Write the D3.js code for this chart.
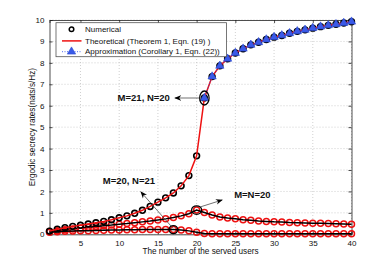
<!DOCTYPE html>
<html><head><meta charset="utf-8">
<script src="https://cdn.jsdelivr.net/npm/d3@7"></script>
<style>
html,body{margin:0;padding:0;background:#fff;}
text{font-family:"Liberation Sans",Arial,sans-serif;}
</style></head>
<body><svg id="c" width="388" height="264"></svg>
<script>
const users = d3.range(1, 41);
const rateM21N20 = [0.15,0.24,0.31,0.37,0.42,0.48,0.54,0.60,0.68,0.77,0.86,0.98,1.12,1.30,1.50,1.70,1.93,2.26,2.74,3.66,
  6.36,7.36,7.86,8.19,8.46,8.66,8.84,8.96,9.09,9.20,9.28,9.38,9.47,9.54,9.62,9.69,9.75,9.80,9.86,9.92];
const approxUsers = d3.range(21, 41);
const approxM21N20 = [6.36,7.36,7.86,8.19,8.46,8.66,8.84,8.96,9.09,9.20,9.28,9.38,9.47,9.54,9.62,9.69,9.75,9.80,9.86,9.92];
const rateM20N20 = [0.13,0.17,0.21,0.25,0.29,0.33,0.36,0.40,0.43,0.47,0.50,0.54,0.58,0.62,0.67,0.72,0.78,0.86,0.96,1.13,
  1.02,0.90,0.81,0.76,0.72,0.68,0.65,0.62,0.60,0.58,0.57,0.55,0.54,0.53,0.52,0.51,0.50,0.49,0.48,0.47];
const rateM20N21 = [0.10,0.12,0.14,0.15,0.16,0.17,0.18,0.19,0.20,0.20,0.21,0.21,0.22,0.22,0.22,0.22,0.22,0.20,0.16,0.10,
  0.04,0.03,0.03,0.03,0.03,0.03,0.03,0.03,0.03,0.03,0.03,0.03,0.03,0.03,0.03,0.03,0.03,0.03,0.03,0.03];
const xTicks = [5,10,15,20,25,30,35,40];
const yTicks = [0,1,2,3,4,5,6,7,8,9,10];
const legendLabels = ["Numerical","Theoretical (Theorem 1, Eqn. (19) )","Approximation (Corollary 1, Eqn. (22))"];
const annoLabels = ["M=21, N=20","M=20, N=21","M=N=20"];
const annoText = [[16.55,6.36],[11.25,2.49],[27.2,1.84]];   // [users, rate] of label anchors
const annoArrowFrom = [[20.45,6.36],[16.9,0.30],[20.5,1.28]];
const annoArrowTo = [[17.2,6.36],[12.8,1.98],[23.3,1.60]];
const ellipseAt = [[21,6.36],[20,1.13],[17,0.22]];

const svg = d3.select("#c");
const W=388,H=264, L=49.5, R=351.5, T=20, B=234.3;
const x = d3.scaleLinear().domain([1,40]).range([L,R]);
const y = d3.scaleLinear().domain([0,10]).range([B,T]);

svg.append("rect").attr("width",W).attr("height",H).attr("fill","#fff");
svg.append("rect").attr("x",L).attr("y",T).attr("width",R-L).attr("height",B-T).attr("fill","#fff");

// grid
const g = svg.append("g");
g.selectAll(".gx").data(xTicks).join("line").attr("x1",d=>x(d)).attr("x2",d=>x(d)).attr("y1",T).attr("y2",B)
  .attr("stroke","#bbb").attr("stroke-width",0.7).attr("stroke-dasharray","1,2");
g.selectAll(".gy").data(yTicks).join("line").attr("y1",d=>y(d)).attr("y2",d=>y(d)).attr("x1",L).attr("x2",R)
  .attr("stroke","#bbb").attr("stroke-width",0.7).attr("stroke-dasharray","1,2");

// axes
const ax = svg.append("g").attr("transform",`translate(0,${B})`).call(d3.axisBottom(x).tickValues(xTicks).tickSize(-3).tickPadding(6));
const ax2 = svg.append("g").attr("transform",`translate(0,${T})`).call(d3.axisTop(x).tickValues(xTicks).tickSize(-3).tickFormat(""));
const ay = svg.append("g").attr("transform",`translate(${L},0)`).call(d3.axisLeft(y).tickValues(yTicks).tickSize(-3).tickPadding(5));
const ay2 = svg.append("g").attr("transform",`translate(${R},0)`).call(d3.axisRight(y).tickValues(yTicks).tickSize(-3).tickFormat(""));
[ax,ax2,ay,ay2].forEach(a=>{
  a.selectAll("path").attr("stroke","#222").attr("stroke-width",0.8);
  a.selectAll("line").attr("stroke","#222").attr("stroke-width",0.8);
  a.selectAll("text").attr("font-size",8).attr("fill","#111").attr("font-family","Liberation Sans, Arial, sans-serif");
});

svg.append("text").attr("x",(L+R)/2).attr("y",253.5).attr("text-anchor","middle").attr("font-size",8.2).attr("fill","#111")
  .text("The number of the served users");
svg.append("text").attr("transform",`translate(34.5,${(T+B)/2}) rotate(-90)`).attr("text-anchor","middle").attr("font-size",8.2).attr("fill","#111")
  .text("Ergodic secrecy rates(nats/s/Hz)");

const line = d3.line().x((d,i)=>x(users[i])).y(d=>y(d));
const plot = svg.append("g");

// lower curves: red circles, black line
[rateM20N20, rateM20N21].forEach(arr=>{
  plot.append("g").selectAll("circle").data(arr).join("circle").attr("cx",(d,i)=>x(users[i])).attr("cy",d=>y(d)).attr("r",3)
    .attr("fill","none").attr("stroke","#ee1111").attr("stroke-width",1.5);
  plot.append("path").datum(arr).attr("d",line).attr("fill","none").attr("stroke","#000").attr("stroke-width",1.5);
});
// top curve: black circles, red line, blue triangles
plot.append("g").selectAll("circle").data(rateM21N20).join("circle").attr("cx",(d,i)=>x(users[i])).attr("cy",d=>y(d)).attr("r",2.9)
  .attr("fill","none").attr("stroke","#000").attr("stroke-width",1.6);
plot.append("path").datum(rateM21N20).attr("d",line).attr("fill","none").attr("stroke","#ee1111").attr("stroke-width",1.5);
const tri = d3.symbol().type(d3.symbolTriangle).size(30);
plot.append("path").datum(approxM21N20).attr("d",d3.line().x((d,i)=>x(approxUsers[i])).y(d=>y(d)))
  .attr("fill","none").attr("stroke","#2244ee").attr("stroke-width",0.8).attr("stroke-dasharray","1,1.5");
plot.append("g").selectAll("path").data(approxM21N20).join("path").attr("d",tri)
  .attr("transform",(d,i)=>`translate(${x(approxUsers[i])},${y(d)})`).attr("fill","#3a5ae8").attr("stroke","#2a48d0").attr("stroke-width",0.6);

// annotations
const ell = [[4.7,7],[5,4.3],[4.3,4]];
svg.append("g").selectAll("ellipse").data(ellipseAt).join("ellipse").attr("cx",d=>x(d[0])).attr("cy",d=>y(d[1]))
  .attr("rx",(d,i)=>ell[i][0]).attr("ry",(d,i)=>ell[i][1]).attr("fill","none").attr("stroke","#000").attr("stroke-width",1.3);

svg.append("defs").append("marker").attr("id","ah").attr("viewBox","0 0 10 10").attr("refX",9).attr("refY",5)
  .attr("markerWidth",7).attr("markerHeight",7).attr("markerUnits","userSpaceOnUse").attr("orient","auto")
  .append("path").attr("d","M0,1 L10,5 L0,9 L3,5 Z").attr("fill","#000");
svg.append("g").selectAll("line").data(annoArrowFrom).join("line")
  .attr("x1",d=>x(d[0])).attr("y1",d=>y(d[1])).attr("x2",(d,i)=>x(annoArrowTo[i][0])).attr("y2",(d,i)=>y(annoArrowTo[i][1]))
  .attr("stroke","#333").attr("stroke-width",0.7).attr("marker-end","url(#ah)");
const anchors = ["end","middle","middle"];
svg.append("g").selectAll("text").data(annoLabels).join("text")
  .attr("x",(d,i)=>x(annoText[i][0])).attr("y",(d,i)=>y(annoText[i][1])).attr("dy","0.35em")
  .attr("text-anchor",(d,i)=>anchors[i]).attr("font-size",9.5).attr("font-weight","bold").attr("fill","#111").text(d=>d);

// legend
const lg = svg.append("g").attr("transform","translate(56,22.7)");
lg.append("rect").attr("width",170.5).attr("height",34).attr("fill","#fff").attr("stroke","#555").attr("stroke-width",0.8);
const ly = [6.6,18.2,29];
lg.append("circle").attr("cx",15.5).attr("cy",ly[0]).attr("r",2.3).attr("fill","none").attr("stroke","#000").attr("stroke-width",1.5);
lg.append("line").attr("x1",6).attr("x2",25.5).attr("y1",ly[1]).attr("y2",ly[1]).attr("stroke","#ee1111").attr("stroke-width",1.5);
lg.append("line").attr("x1",6).attr("x2",25.5).attr("y1",ly[2]).attr("y2",ly[2]).attr("stroke","#2244ee").attr("stroke-width",0.8).attr("stroke-dasharray","1,1.5");
lg.append("path").attr("d",tri).attr("transform",`translate(15.5,${ly[2]})`).attr("fill","#3a5ae8").attr("stroke","#2a48d0").attr("stroke-width",0.6);
lg.selectAll("text").data(legendLabels).join("text").attr("x",29).attr("y",(d,i)=>ly[i]).attr("dy","0.35em")
  .attr("font-size",8).attr("fill","#111").text(d=>d);
</script></body></html>
